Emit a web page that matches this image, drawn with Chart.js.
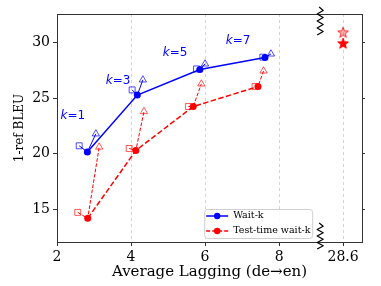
<!DOCTYPE html>
<html><head><meta charset="utf-8">
<script src="https://cdn.jsdelivr.net/npm/chart.js@4"></script>
<style>html,body{margin:0;padding:0;background:#fff}#wrap{width:381px;height:286px;position:relative}</style>
</head><body><div id="wrap"><canvas id="c"></canvas></div>
<script>
// ---- data ----
const kLabels = ['1', '3', '5', '7'];
const waitkAL = [2.82, 4.17, 5.86, 7.62];
const waitkBLEU = [20.14, 25.27, 27.57, 28.65];
const waitkSqAL = [2.60, 4.03, 5.77, 7.56];
const waitkSqBLEU = [20.70, 25.74, 27.63, 28.69];
const waitkTriAL = [3.05, 4.32, 6.00, 7.78];
const waitkTriBLEU = [21.78, 26.64, 28.08, 28.98];
const testAL = [2.83, 4.13, 5.68, 7.43];
const testBLEU = [14.16, 20.28, 24.24, 26.04];
const testSqAL = [2.56, 3.95, 5.55, 7.35];
const testSqBLEU = [14.70, 20.46, 24.24, 26.04];
const testTriAL = [3.14, 4.35, 5.90, 7.58];
const testTriBLEU = [20.59, 23.79, 26.28, 27.45];
const fullAL = [28.6, 28.6];
const fullBLEU = [29.95, 30.94];
const xTicks = [2, 4, 6, 8, 28.6];
const yTicks = [15, 20, 25, 30];
const seriesNames = ['Wait-k', 'Test-time wait-k'];
// annotation anchors (data coords)
const kLabelAL = [2.43, 3.65, 5.19, 6.89];
const kLabelBLEU = [23.40, 26.55, 29.07, 30.15];

// broken x axis: values beyond the break are shifted next to it
const BREAK_AT = 9.11, FULL_POS = 9.73, FULL_VAL = 28.6;
const pos = v => v > 10 ? FULL_POS + (v - FULL_VAL) : v;
const unpos = p => p > 9 ? FULL_VAL + (p - FULL_POS) : p;
const pts = (xs, ys) => xs.map((x, i) => ({x: pos(x), y: ys[i]}));

const BLUE = '#0000ff', RED = '#ff0000';
const BLUE_A = 'rgba(0,0,255,0.7)', RED_A = 'rgba(255,0,0,0.65)';
const SERIF = "'DejaVu Serif', serif";

function starCanvas(fill, stroke) {
  const c = document.createElement('canvas');
  c.width = 14; c.height = 14;
  const g = c.getContext('2d');
  g.beginPath();
  for (let i = 0; i < 10; i++) {
    const r = i % 2 === 0 ? 5.6 : 2.3;
    const a = -Math.PI / 2 + i * Math.PI / 5;
    const px = 7 + r * Math.cos(a), py = 7.6 + r * Math.sin(a);
    i === 0 ? g.moveTo(px, py) : g.lineTo(px, py);
  }
  g.closePath();
  g.fillStyle = fill; g.fill();
  g.lineWidth = 1; g.strokeStyle = stroke; g.stroke();
  return c;
}

const datasets = [];
datasets.push({
  label: seriesNames[0], data: pts(waitkAL, waitkBLEU), borderColor: BLUE, backgroundColor: BLUE,
  borderWidth: 1.5, pointStyle: 'circle', pointRadius: 3.5, pointBorderWidth: 0, order: 0
});
datasets.push({
  label: seriesNames[1], data: pts(testAL, testBLEU), borderColor: RED, backgroundColor: RED,
  borderWidth: 1.5, borderDash: [5.5, 2.4], pointStyle: 'circle', pointRadius: 3.5, pointBorderWidth: 0, order: 0
});
function branch(sqX, sqY, cX, cY, trX, trY, color, colorA, dash) {
  for (let i = 0; i < cX.length; i++) {
    datasets.push({
      label: '', data: [{x: pos(sqX[i]), y: sqY[i]}, {x: pos(cX[i]), y: cY[i]}, {x: pos(trX[i]), y: trY[i]}],
      borderColor: color, borderWidth: 1, borderDash: dash,
      pointStyle: ['rect', 'circle', 'triangle'], pointRadius: [4.2, 0, 4.2],
      pointBorderColor: colorA, pointBackgroundColor: 'rgba(0,0,0,0)', pointBorderWidth: 1, order: 1
    });
  }
}
branch(waitkSqAL, waitkSqBLEU, waitkAL, waitkBLEU, waitkTriAL, waitkTriBLEU, BLUE, BLUE_A, []);
branch(testSqAL, testSqBLEU, testAL, testBLEU, testTriAL, testTriBLEU, RED, RED_A, [3.7, 1.6]);
datasets.push({
  label: '', data: pts(fullAL, fullBLEU), showLine: false,
  pointStyle: [starCanvas(RED, RED), starCanvas('rgba(255,0,0,0.3)', 'rgba(255,0,0,0.8)')],
  pointRadius: 5, order: 0
});

const decor = {
  id: 'decor',
  afterDatasetsDraw(chart) {
    const {ctx, chartArea: a, scales: {x, y}} = chart;
    ctx.save();
    // k annotations
    ctx.fillStyle = BLUE; ctx.textBaseline = 'middle';
    kLabels.forEach((k, i) => {
      const cx = x.getPixelForValue(kLabelAL[i]), cy = y.getPixelForValue(kLabelBLEU[i]);
      ctx.font = "italic 12px 'DejaVu Sans'";
      const w1 = ctx.measureText('k').width;
      ctx.font = "12px 'DejaVu Sans'";
      const w2 = ctx.measureText('=' + k).width;
      const sx = cx - (w1 + w2) / 2;
      ctx.textAlign = 'left';
      ctx.font = "italic 12px 'DejaVu Sans'";
      ctx.fillText('k', sx, cy);
      ctx.font = "12px 'DejaVu Sans'";
      ctx.fillText('=' + k, sx + w1, cy);
    });
    ctx.restore();
  },
  afterDraw(chart) {
    const {ctx, chartArea: a, scales: {x}} = chart;
    ctx.save();
    // top spine
    ctx.strokeStyle = '#333'; ctx.lineWidth = 1;
    ctx.beginPath(); ctx.moveTo(a.left, a.top + 0.5); ctx.lineTo(a.right, a.top + 0.5); ctx.stroke();
    // break marks
    const bx = x.getPixelForValue(BREAK_AT);
    function zig(y0, y1) {
      const n = 8, h = (y1 - y0) / n;
      ctx.beginPath(); ctx.moveTo(bx - 1, y0);
      for (let i = 1; i <= n; i++) ctx.lineTo(bx + (i % 2 ? 3 : -3), y0 + h * i);
      ctx.strokeStyle = '#000'; ctx.lineWidth = 1.2; ctx.lineJoin = 'round'; ctx.stroke();
    }
    zig(a.top - 7, a.top + 21);
    zig(a.bottom - 19, a.bottom + 7);
    // legend
    const bw = 108, bh = 29;
    const lx = bx - 8 - bw, ly = a.bottom - 4 - bh;
    ctx.beginPath();
    ctx.roundRect(lx + 0.5, ly + 0.5, bw, bh, 3);
    ctx.fillStyle = 'rgba(255,255,255,0.85)'; ctx.fill();
    ctx.strokeStyle = '#d0d0d0'; ctx.lineWidth = 1; ctx.stroke();
    [[BLUE, []], [RED, [4, 2]]].forEach(([c, d], i) => {
      const ry = ly + 7 + i * 15;
      ctx.strokeStyle = c; ctx.lineWidth = 1.5; ctx.setLineDash(d);
      ctx.beginPath(); ctx.moveTo(lx + 2, ry); ctx.lineTo(lx + 24, ry); ctx.stroke();
      ctx.setLineDash([]);
      ctx.fillStyle = c; ctx.beginPath(); ctx.arc(lx + 13, ry, 3.2, 0, Math.PI * 2); ctx.fill();
      ctx.fillStyle = '#000'; ctx.font = "9.5px " + SERIF; ctx.textAlign = 'left'; ctx.textBaseline = 'middle';
      ctx.fillText(seriesNames[i], lx + 29, ry);
    });
    ctx.restore();
  }
};

new Chart(document.getElementById('c'), {
  type: 'line',
  data: {datasets},
  plugins: [decor],
  options: {
    responsive: true, maintainAspectRatio: false, animation: false,
    layout: {padding: {top: 14, left: 0, right: 0, bottom: 0}},
    plugins: {legend: {display: false}, tooltip: {enabled: false}},
    elements: {line: {tension: 0}},
    scales: {
      x: {
        type: 'linear', min: 2, max: 10.24,
        afterBuildTicks: s => { s.ticks = xTicks.map(v => ({value: pos(v)})); },
        afterFit: s => { s.height = 44; },
        ticks: {
          font: {family: SERIF, size: 14}, color: '#000', padding: 3, maxRotation: 0,
          callback: v => { const u = unpos(v); return Math.abs(u - Math.round(u)) < 1e-6 ? String(Math.round(u)) : u.toFixed(1); }
        },
        grid: {
          color: c => (c.tick && c.tick.value === 2) ? 'rgba(0,0,0,0)' : '#c8c8c8',
          lineWidth: 0.8, tickColor: '#333', tickWidth: 1, tickLength: 4
        },
        border: {color: '#333', width: 1, dash: [3, 3]},
        title: {display: true, text: 'Average Lagging (de→en)', font: {family: SERIF, size: 15}, color: '#000', padding: {top: 0, bottom: 5}}
      },
      y: {
        type: 'linear', min: 12.03, max: 32.58, position: 'left',
        afterBuildTicks: s => { s.ticks = yTicks.map(v => ({value: v})); },
        afterFit: s => { s.width = 57; },
        ticks: {font: {family: SERIF, size: 14}, color: '#000', padding: 3},
        grid: {drawOnChartArea: false, tickColor: '#333', tickLength: 4, tickWidth: 1},
        border: {color: '#333', width: 1},
        title: {display: true, text: '1-ref BLEU', font: {family: SERIF, size: 12}, color: '#000', padding: {top: 13, bottom: 0}}
      },
      y2: {
        type: 'linear', min: 12.03, max: 32.58, position: 'right',
        afterBuildTicks: s => { s.ticks = yTicks.map(v => ({value: v})); },
        afterFit: s => { s.width = 19; },
        ticks: {display: false},
        grid: {drawOnChartArea: false, tickColor: '#333', tickLength: 3, tickWidth: 1},
        border: {color: '#333', width: 1}
      }
    }
  }
});
</script>
</body></html>
